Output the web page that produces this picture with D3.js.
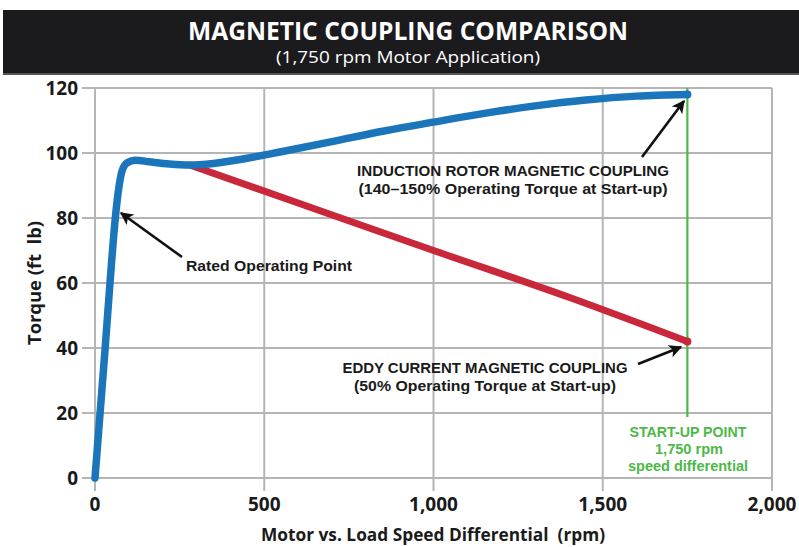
<!DOCTYPE html>
<html><head><meta charset="utf-8">
<script src="https://cdn.jsdelivr.net/npm/d3@7/dist/d3.min.js"></script>
<style>
html,body{margin:0;padding:0;background:#fff;}
svg{display:block;}
text{font-family:"Open Sans","Noto Sans",sans-serif;}
text.ann{font-family:"Liberation Sans",Arial,sans-serif;}
</style></head>
<body>
<svg id="chart" width="799" height="547"></svg>
<script>
// ---- data ----
const xTicks = [0, 500, 1000, 1500, 2000];
const xTickLabels = ["0", "500", "1,000", "1,500", "2,000"];
const yTicks = [0, 20, 40, 60, 80, 100, 120];
const yTickLabels = ["0", "20", "40", "60", "80", "100", "120"];

const inductionX = [0, 15, 30, 45, 60, 70, 80, 95, 120, 160, 220, 280, 350, 450, 550, 700, 850, 1000, 1150, 1300, 1450, 1600, 1750];
const inductionY = [0, 20, 40, 61, 80, 89, 94.5, 97, 97.8, 97.3, 96.6, 96.3, 96.8, 98.4, 100.4, 103.5, 106.7, 109.5, 112.2, 114.5, 116.3, 117.5, 118];

const eddyX = [280, 600, 1000, 1400, 1750];
const eddyY = [96.3, 84.6, 70, 55.6, 42];

const startupX = 1750;

const title = "MAGNETIC COUPLING COMPARISON";
const subtitle = "(1,750 rpm Motor Application)";

// ---- layout ----
const svg = d3.select("#chart");
const x = d3.scaleLinear().domain([0, 2000]).range([95, 772]);
const y = d3.scaleLinear().domain([0, 120]).range([478, 88]);

// title bar
svg.append("rect").attr("x", 3).attr("y", 10).attr("width", 796).attr("height", 65).attr("fill", "#1b1a1c");
svg.append("rect").attr("x", 3).attr("y", 73).attr("width", 796).attr("height", 2).attr("fill", "#555");
svg.append("text").text(title).attr("x", 408).attr("y", 40).attr("text-anchor", "middle")
  .attr("fill", "#fff").attr("font-weight", 700).attr("font-size", 25)
  .attr("textLength", 440).attr("lengthAdjust", "spacingAndGlyphs");
svg.append("text").text(subtitle).attr("x", 408).attr("y", 63).attr("text-anchor", "middle")
  .attr("fill", "#fff").attr("font-weight", 400).attr("font-size", 17)
  .attr("textLength", 264).attr("lengthAdjust", "spacingAndGlyphs");

// grid
const grid = svg.append("g").attr("stroke", "#b5b5b5").attr("stroke-width", 2);
grid.selectAll("line.h").data(yTicks).join("line")
  .attr("x1", 82).attr("x2", x(2000)).attr("y1", d => y(d)).attr("y2", d => y(d));
grid.selectAll("line.v").data(xTicks).join("line")
  .attr("x1", d => x(d)).attr("x2", d => x(d)).attr("y1", y(120)).attr("y2", 491);

// tick labels
svg.selectAll("text.yt").data(yTicks).join("text")
  .attr("x", 78).attr("y", d => y(d) + 7).attr("text-anchor", "end")
  .attr("font-weight", 700).attr("font-size", 19).attr("fill", "#1a1a1a")
  .text((d, i) => yTickLabels[i]);
svg.selectAll("text.xt").data(xTicks).join("text")
  .attr("x", d => x(d)).attr("y", 511).attr("text-anchor", "middle")
  .attr("font-weight", 700).attr("font-size", 19).attr("fill", "#1a1a1a")
  .text((d, i) => xTickLabels[i]);

// axis titles
svg.append("text").text("Motor vs. Load Speed Differential  (rpm)")
  .attr("x", 433).attr("y", 541).attr("text-anchor", "middle")
  .attr("font-weight", 700).attr("font-size", 17).attr("fill", "#1a1a1a")
  .attr("textLength", 344).attr("lengthAdjust", "spacingAndGlyphs").attr("xml:space", "preserve");
svg.append("text").text("Torque (ft  lb)")
  .attr("transform", "translate(41,283) rotate(-90)").attr("text-anchor", "middle")
  .attr("font-weight", 700).attr("font-size", 17).attr("fill", "#1a1a1a")
  .attr("textLength", 124).attr("lengthAdjust", "spacingAndGlyphs").attr("xml:space", "preserve");

// start-up line
svg.append("line").attr("x1", x(startupX)).attr("x2", x(startupX))
  .attr("y1", y(120)).attr("y2", 417).attr("stroke", "#4db848").attr("stroke-width", 2.2);

// curves
const eddyData = eddyX.map((v, i) => [v, eddyY[i]]);
const indData = inductionX.map((v, i) => [v, inductionY[i]]);
const line = d3.line().x(d => x(d[0])).y(d => y(d[1])).curve(d3.curveMonotoneX);
svg.append("path").attr("d", line(eddyData)).attr("fill", "none")
  .attr("stroke", "#c9283a").attr("stroke-width", 7).attr("stroke-linecap", "round");
svg.append("path").attr("d", line(indData)).attr("fill", "none")
  .attr("stroke", "#1b75bb").attr("stroke-width", 7.5).attr("stroke-linecap", "round").attr("stroke-linejoin", "round");

// end dots
svg.append("circle").attr("cx", x(1750)).attr("cy", y(inductionY[inductionY.length - 1])).attr("r", 4).attr("fill", "#1b75bb");
svg.append("circle").attr("cx", x(1750)).attr("cy", y(eddyY[eddyY.length - 1])).attr("r", 4).attr("fill", "#c9283a");

// arrows
const defs = svg.append("defs");
defs.append("marker").attr("id", "ah").attr("viewBox", "0 0 10 10").attr("refX", 9).attr("refY", 5)
  .attr("markerWidth", 5).attr("markerHeight", 5).attr("markerUnits", "strokeWidth").attr("orient", "auto")
  .append("path").attr("d", "M0,0 L10,5 L0,10 L2.5,5 Z").attr("fill", "#111");
function arrow(x1, y1, x2, y2) {
  svg.append("line").attr("x1", x1).attr("y1", y1).attr("x2", x2).attr("y2", y2)
    .attr("stroke", "#111").attr("stroke-width", 2.6).attr("marker-end", "url(#ah)");
}
arrow(182, 257, 121, 213);
arrow(642, 157, 684, 101);
arrow(638, 364, 681, 347);

// annotations
function label(t, cx, yy, w, opts) {
  const o = opts || {};
  svg.append("text").attr("class", "ann").text(t).attr("x", cx).attr("y", yy).attr("text-anchor", o.anchor || "middle")
    .attr("font-weight", o.weight || 700).attr("font-size", o.size || 15).attr("fill", o.fill || "#1a1a1a")
    .attr("textLength", w).attr("lengthAdjust", "spacingAndGlyphs");
}
label("Rated Operating Point", 186, 271, 166, {anchor: "start", weight: 700});
label("INDUCTION ROTOR MAGNETIC COUPLING", 513, 176, 312);
label("(140–150% Operating Torque at Start-up)", 513, 194, 309);
label("EDDY CURRENT MAGNETIC COUPLING", 485, 373, 285);
label("(50% Operating Torque at Start-up)", 485, 391, 262);
label("START-UP POINT", 688, 437, 117, {fill: "#4db848", size: 14});
label("1,750 rpm", 689, 454, 68, {fill: "#4db848", size: 14});
label("speed differential", 688, 471, 120, {fill: "#4db848", size: 14});
</script>
</body></html>
